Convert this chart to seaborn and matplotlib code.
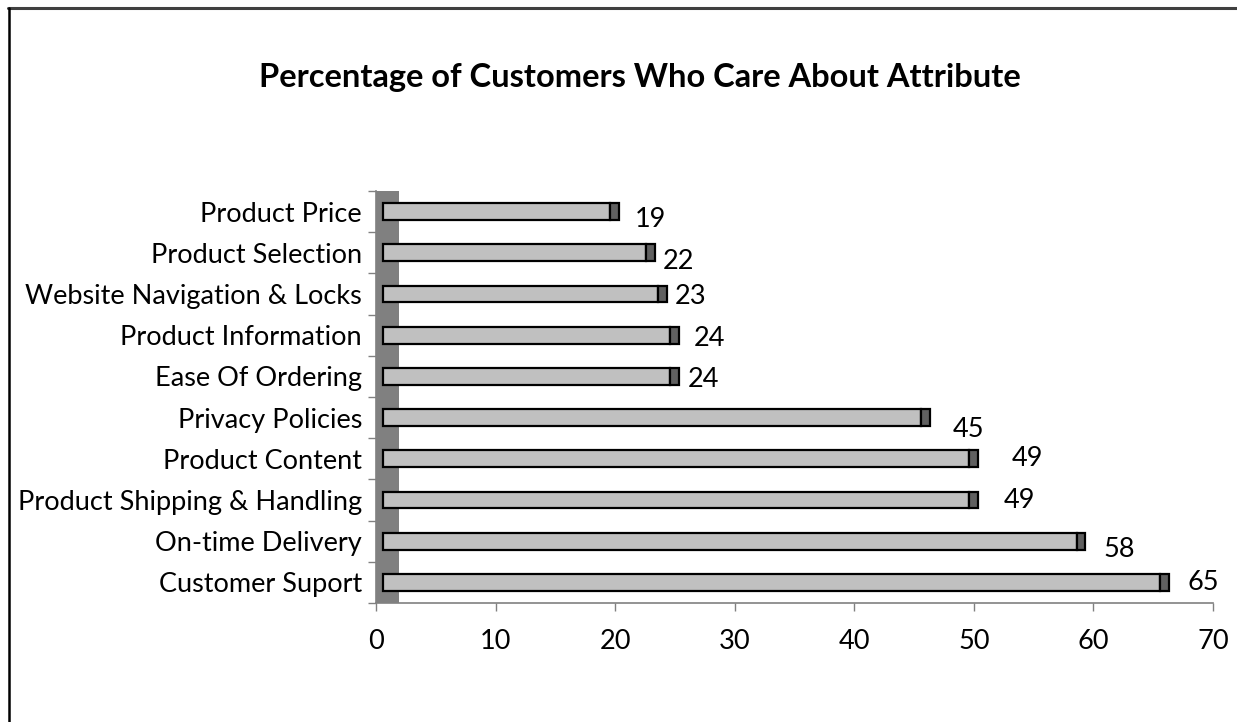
import matplotlib
matplotlib.use("Agg")
import matplotlib.pyplot as plt
from matplotlib.lines import Line2D
import seaborn as sns
import pandas as pd

# Survey results: share of customers who care about each attribute (%)
attributes = [
    "Product Price",
    "Product Selection",
    "Website Navigation & Locks",
    "Product Information",
    "Ease Of Ordering",
    "Privacy Policies",
    "Product Content",
    "Product Shipping & Handling",
    "On-time Delivery",
    "Customer Suport",
]
percentages = [19, 22, 23, 24, 24, 45, 49, 49, 58, 65]
x_ticks = [0, 10, 20, 30, 40, 50, 60, 70]

# Value-label nudges (pixels right, pixels down) for the 3-D style layout
label_dx = [16, 8, 8, 15, 9, 23, 34, 26, 18, 18]
label_dy = [8, 9, 3, 3, 3, 12, 0, 0, 8, 0]

df = pd.DataFrame({"attribute": attributes, "pct": percentages})

sns.set_theme(style="white")
plt.rcParams["font.family"] = ["Lato", "DejaVu Sans"]

W, H = 1237, 722
fig = plt.figure(figsize=(W / 100, H / 100), dpi=100)
ax = fig.add_axes([376 / W, (H - 603) / H, 837 / W, 412 / H])

FRONT = "#C0C0C0"
SIDE = "#606060"
WALL = "#808080"
DEPTH = 0.585   # horizontal shift of the front face (pseudo-3D)
CAP = 0.75      # width of the visible bar side
BAR_H = 0.41
FS = 19.5

sns.barplot(data=df, x="pct", y="attribute", orient="h", color=FRONT,
            edgecolor="black", linewidth=1.6, width=BAR_H, saturation=1,
            ax=ax, zorder=3)

# shift the front faces and add the darker side of each bar
for patch, val in zip(ax.patches, percentages):
    patch.set_x(patch.get_x() + DEPTH)
    yc = patch.get_y() + patch.get_height() / 2
    ax.barh(yc, CAP, left=DEPTH + val, height=BAR_H, color=SIDE,
            edgecolor="black", linewidth=1.6, zorder=3)

# side wall of the 3-D plot area
ax.axvspan(0, 1.92, color=WALL, zorder=1, lw=0)

# value labels
for i, val in enumerate(percentages):
    ax.annotate(str(val), xy=(DEPTH + val + CAP, i), xytext=(label_dx[i], -label_dy[i]),
                textcoords="offset pixels", ha="left", va="center",
                fontsize=FS, color="black", zorder=4)

ax.set_xlim(0, 70)
ax.set_ylim(9.5, -0.5)
ax.set_xticks(x_ticks)
ax.set_xticklabels([str(t) for t in x_ticks])
ax.set_xlabel("")
ax.set_ylabel("")

ax.set_yticks([i - 0.5 for i in range(len(attributes) + 1)], minor=True)
ax.tick_params(axis="y", which="major", length=0, pad=10, labelsize=FS, colors="black")
ax.tick_params(axis="y", which="minor", length=6, width=1, color="#808080", direction="out", left=True)
ax.tick_params(axis="x", which="major", length=6, width=1, color="#808080", direction="out",
               bottom=True, pad=13, labelsize=FS, labelcolor="black")

for side in ("top", "right"):
    ax.spines[side].set_visible(False)
for side in ("left", "bottom"):
    ax.spines[side].set_color("#808080")
    ax.spines[side].set_linewidth(1.2)

fig.text(640 / W, 1 - 78 / H, "Percentage of Customers Who Care About Attribute",
         ha="center", va="center", fontsize=23.5, fontweight="bold", color="black")

# chart-area border (top and left edges)
fig.add_artist(Line2D([8 / W, 1], [1 - 8 / H, 1 - 8 / H], transform=fig.transFigure,
                      color="#404040", lw=2.2))
fig.add_artist(Line2D([9 / W, 9 / W], [0, 1 - 8 / H], transform=fig.transFigure,
                      color="black", lw=1.8))

fig.savefig("out.png", dpi=100)
